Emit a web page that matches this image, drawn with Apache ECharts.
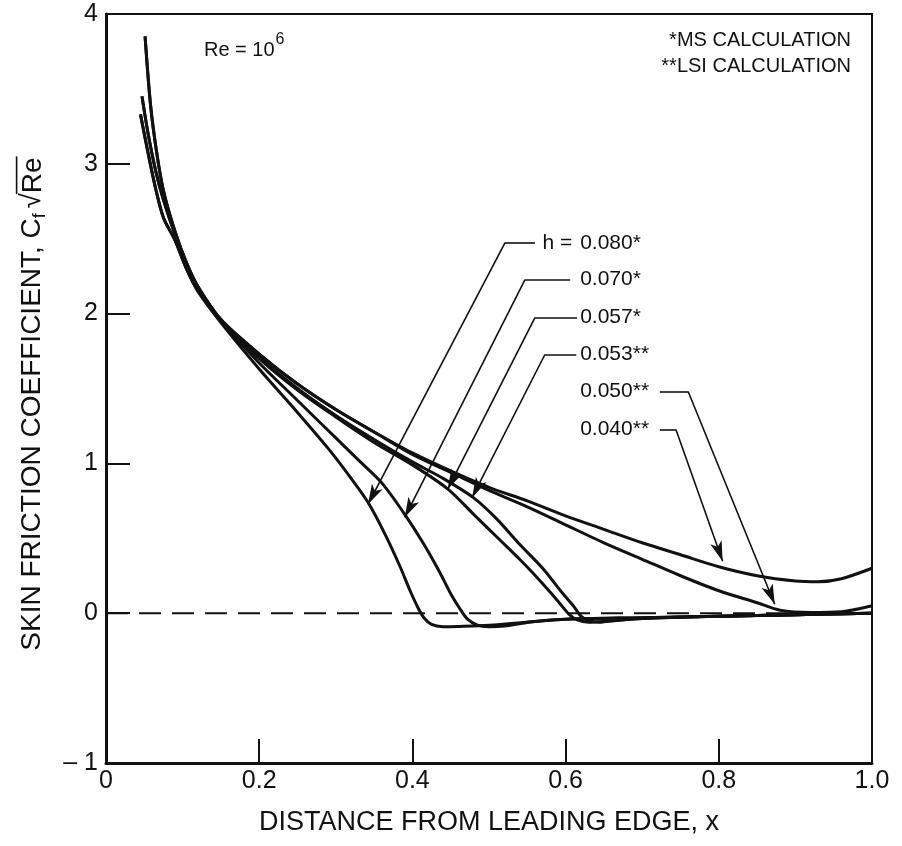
<!DOCTYPE html>
<html>
<head>
<meta charset="utf-8">
<script src="https://cdn.jsdelivr.net/npm/echarts@6/dist/echarts.min.js"></script>
<style>
  html, body { margin: 0; padding: 0; background: #fff; }
  #chart { width: 902px; height: 846px; }
</style>
</head>
<body>
<div id="chart"></div>
<script>
// tick labels
const xTickLabels = ['0', '0.2', '0.4', '0.6', '0.8', '1.0'];
const yTickLabels = ['– 1', '0', '1', '2', '3', '4'];

// skin friction curves, [x, Cf*sqrt(Re)]
const h040 = [[0.051, 3.85], [0.058, 3.4], [0.066, 3.08], [0.075, 2.82], [0.09, 2.55], [0.105, 2.34], [0.12, 2.18], [0.15, 1.96], [0.2, 1.73], [0.25, 1.53], [0.3, 1.36], [0.35, 1.21], [0.4, 1.07], [0.45, 0.95], [0.5, 0.84], [0.55, 0.75], [0.6, 0.65], [0.65, 0.56], [0.7, 0.47], [0.75, 0.39], [0.8, 0.31], [0.85, 0.25], [0.9, 0.215], [0.93, 0.21], [0.96, 0.23], [1.0, 0.3]];
const h050 = [[0.051, 3.85], [0.058, 3.4], [0.066, 3.08], [0.075, 2.82], [0.09, 2.55], [0.105, 2.34], [0.12, 2.18], [0.15, 1.96], [0.2, 1.73], [0.25, 1.53], [0.3, 1.36], [0.35, 1.21], [0.4, 1.06], [0.45, 0.94], [0.5, 0.82], [0.55, 0.71], [0.6, 0.59], [0.65, 0.47], [0.7, 0.36], [0.75, 0.25], [0.8, 0.15], [0.85, 0.07], [0.88, 0.02], [0.92, 0.005], [0.96, 0.01], [1.0, 0.05]];
const h053 = [[0.047, 3.45], [0.055, 3.2], [0.065, 2.95], [0.075, 2.76], [0.09, 2.53], [0.105, 2.33], [0.12, 2.17], [0.15, 1.95], [0.2, 1.71], [0.25, 1.5], [0.3, 1.32], [0.35, 1.16], [0.4, 1.01], [0.44, 0.9], [0.48, 0.77], [0.51, 0.63], [0.54, 0.46], [0.57, 0.3], [0.595, 0.14], [0.61, 0.05], [0.62, -0.02], [0.63, -0.05], [0.645, -0.06], [0.66, -0.05], [0.7, -0.035], [0.8, -0.02], [0.9, -0.01], [1.0, 0.0]];
const h057 = [[0.047, 3.45], [0.055, 3.2], [0.065, 2.95], [0.075, 2.76], [0.09, 2.53], [0.105, 2.33], [0.12, 2.17], [0.15, 1.95], [0.2, 1.7], [0.25, 1.49], [0.3, 1.31], [0.35, 1.14], [0.4, 0.99], [0.446, 0.83], [0.48, 0.66], [0.514, 0.49], [0.54, 0.36], [0.557, 0.27], [0.58, 0.14], [0.595, 0.05], [0.605, -0.01], [0.615, -0.045], [0.63, -0.06], [0.65, -0.055], [0.7, -0.035], [0.8, -0.02], [0.9, -0.01], [1.0, 0.0]];
const h070 = [[0.045, 3.33], [0.055, 3.07], [0.065, 2.83], [0.075, 2.64], [0.09, 2.49], [0.105, 2.3], [0.12, 2.15], [0.15, 1.95], [0.2, 1.67], [0.25, 1.42], [0.3, 1.17], [0.33, 1.02], [0.36, 0.87], [0.39, 0.66], [0.415, 0.46], [0.436, 0.27], [0.45, 0.13], [0.462, 0.03], [0.472, -0.04], [0.485, -0.08], [0.5, -0.09], [0.52, -0.085], [0.56, -0.055], [0.6, -0.04], [0.7, -0.03], [0.8, -0.02], [0.9, -0.01], [1.0, 0.0]];
const h080 = [[0.045, 3.33], [0.055, 3.07], [0.065, 2.83], [0.075, 2.64], [0.09, 2.49], [0.105, 2.3], [0.12, 2.15], [0.15, 1.94], [0.2, 1.63], [0.25, 1.34], [0.29, 1.1], [0.32, 0.9], [0.342, 0.74], [0.365, 0.52], [0.384, 0.31], [0.397, 0.15], [0.407, 0.04], [0.415, -0.03], [0.425, -0.075], [0.44, -0.09], [0.46, -0.088], [0.5, -0.08], [0.56, -0.055], [0.6, -0.04], [0.7, -0.03], [0.8, -0.02], [0.9, -0.01], [1.0, 0.0]];
const zeroLine = [[0, 0], [1, 0]];

const curveNames = ['0.080', '0.070', '0.057', '0.053', '0.050', '0.040'];
const curveData = [h080, h070, h057, h053, h050, h040];
const curveLabels = ['0.080*', '0.070*', '0.057*', '0.053**', '0.050**', '0.040**'];

// leader lines for the h labels (data coords): path ends with the arrow tip
const leaders = [
  [[0.56, 2.473], [0.521, 2.473], [0.342, 0.727]],
  [[0.606, 2.227], [0.547, 2.227], [0.39, 0.64]],
  [[0.615, 1.973], [0.56, 1.973], [0.446, 0.827]],
  [[0.614, 1.727], [0.573, 1.727], [0.478, 0.773]],
  [[0.723, 1.48], [0.76, 1.48], [0.873, 0.06]],
  [[0.723, 1.227], [0.744, 1.227], [0.805, 0.347]]
];
const labelX = 0.619;
const labelY = [2.473, 2.227, 1.973, 1.727, 1.48, 1.227];

const FONT = '"Liberation Sans", Arial, Helvetica, sans-serif';
const INK = '#111';

const chart = echarts.init(document.getElementById('chart'));

const series = curveData.map((d, i) => ({
  name: curveNames[i],
  type: 'line',
  data: d,
  smooth: 0.3,
  showSymbol: false,
  silent: true,
  lineStyle: { color: INK, width: 3 },
  z: 3
}));

series.push({
  name: 'zero',
  type: 'line',
  data: zeroLine,
  showSymbol: false,
  silent: true,
  lineStyle: { color: INK, width: 2, type: [22, 11] },
  z: 2
});

// leaders as markLines so the arrow follows the segment direction
const markData = [];
leaders.forEach(path => {
  for (let k = 0; k < path.length - 1; k++) {
    const last = k === path.length - 2;
    markData.push([
      { coord: path[k], symbol: 'none' },
      { coord: path[k + 1], symbol: last ? 'arrow' : 'none' }
    ]);
  }
});
series.push({
  name: 'leaders',
  type: 'line',
  data: [],
  silent: true,
  markLine: {
    silent: true,
    animation: false,
    symbolSize: [9, 20],
    label: { show: false },
    lineStyle: { color: INK, width: 1.6, type: 'solid' },
    emphasis: { disabled: true },
    data: markData
  }
});

chart.setOption({
  animation: false,
  backgroundColor: '#fff',
  grid: {
    left: 106, right: 30, top: 14, bottom: 83,
    show: true, borderColor: INK, borderWidth: 2
  },
  xAxis: {
    type: 'value',
    min: 0, max: 1, interval: 0.2,
    name: 'DISTANCE FROM LEADING EDGE, x',
    nameLocation: 'middle',
    nameGap: 46,
    nameTextStyle: { color: INK, fontSize: 27, fontFamily: FONT },
    axisLine: { show: true, onZero: false, lineStyle: { color: INK, width: 3 } },
    axisTick: { inside: true, length: 24, lineStyle: { color: INK, width: 2 } },
    axisLabel: {
      color: INK, fontSize: 25, fontFamily: FONT, margin: 6,
      formatter: v => xTickLabels[Math.round(v * 5)]
    },
    splitLine: { show: false }
  },
  yAxis: {
    type: 'value',
    min: -1, max: 4, interval: 1,
    axisLine: { show: true, onZero: false, lineStyle: { color: INK, width: 3 } },
    axisTick: { inside: true, length: 24, lineStyle: { color: INK, width: 2 } },
    axisLabel: {
      color: INK, fontSize: 25, fontFamily: FONT, margin: 8,
      formatter: v => yTickLabels[Math.round(v) + 1]
    },
    splitLine: { show: false }
  },
  series: series
});

// text measuring for the hand-built titles
const ctx = document.createElement('canvas').getContext('2d');
function textW(str, size) {
  ctx.font = size + 'px ' + FONT;
  return ctx.measureText(str).width;
}

const graphics = [];

// y-axis title, rotated, with C_f and the radical over Re
(function () {
  const s = 28, ss = 18;
  const main = 'SKIN FRICTION COEFFICIENT, C';
  const wMain = textW(main, s), wF = textW('f', ss), wGap = textW(' ', s) * 0.6;
  const wRad = textW('√', s), wRe = textW('Re', s);
  const W = wMain + wF + wGap + wRad + wRe;
  let x0 = -W / 2;
  const kids = [];
  kids.push({ type: 'text', x: x0, y: 0, style: { text: main, fontSize: s, fontFamily: FONT, fill: INK, align: 'left', verticalAlign: 'middle' } });
  x0 += wMain;
  kids.push({ type: 'text', x: x0, y: 8, style: { text: 'f', fontSize: ss, fontFamily: FONT, fill: INK, align: 'left', verticalAlign: 'middle' } });
  x0 += wF + wGap;
  kids.push({ type: 'text', x: x0, y: 0, style: { text: '√', fontSize: s, fontFamily: FONT, fill: INK, align: 'left', verticalAlign: 'middle' } });
  x0 += wRad;
  kids.push({ type: 'text', x: x0, y: 1, style: { text: 'Re', fontSize: s, fontFamily: FONT, fill: INK, align: 'left', verticalAlign: 'middle' } });
  kids.push({ type: 'line', shape: { x1: x0 - 1, y1: -s * 0.55, x2: x0 + wRe + 1, y2: -s * 0.55 }, style: { stroke: INK, lineWidth: 1.6 } });
  graphics.push({ type: 'group', x: 32, y: 404, rotation: Math.PI / 2, children: kids });
})();

// Re = 10^6
(function () {
  const w = textW('Re = 10', 20);
  graphics.push({ type: 'text', x: 204, y: 50, style: { text: 'Re = 10', fontSize: 20, fontFamily: FONT, fill: INK, verticalAlign: 'middle' } });
  graphics.push({ type: 'text', x: 204 + w + 1, y: 40, style: { text: '6', fontSize: 16, fontFamily: FONT, fill: INK, verticalAlign: 'middle' } });
})();

// calculation key, top right
graphics.push({ type: 'text', x: 851, y: 40, style: { text: '*MS CALCULATION', fontSize: 20, fontFamily: FONT, fill: INK, align: 'right', verticalAlign: 'middle' } });
graphics.push({ type: 'text', x: 851, y: 66, style: { text: '**LSI CALCULATION', fontSize: 20, fontFamily: FONT, fill: INK, align: 'right', verticalAlign: 'middle' } });

// h labels
curveLabels.forEach((t, i) => {
  const p = chart.convertToPixel({ gridIndex: 0 }, [labelX, labelY[i]]);
  graphics.push({ type: 'text', x: p[0], y: p[1], style: { text: t, fontSize: 21, fontFamily: FONT, fill: INK, align: 'left', verticalAlign: 'middle' } });
  if (i === 0) {
    graphics.push({ type: 'text', x: p[0] - 2, y: p[1], style: { text: 'h = ', fontSize: 21, fontFamily: FONT, fill: INK, align: 'right', verticalAlign: 'middle' } });
  }
});

chart.setOption({ graphic: graphics });
</script>
</body>
</html>
